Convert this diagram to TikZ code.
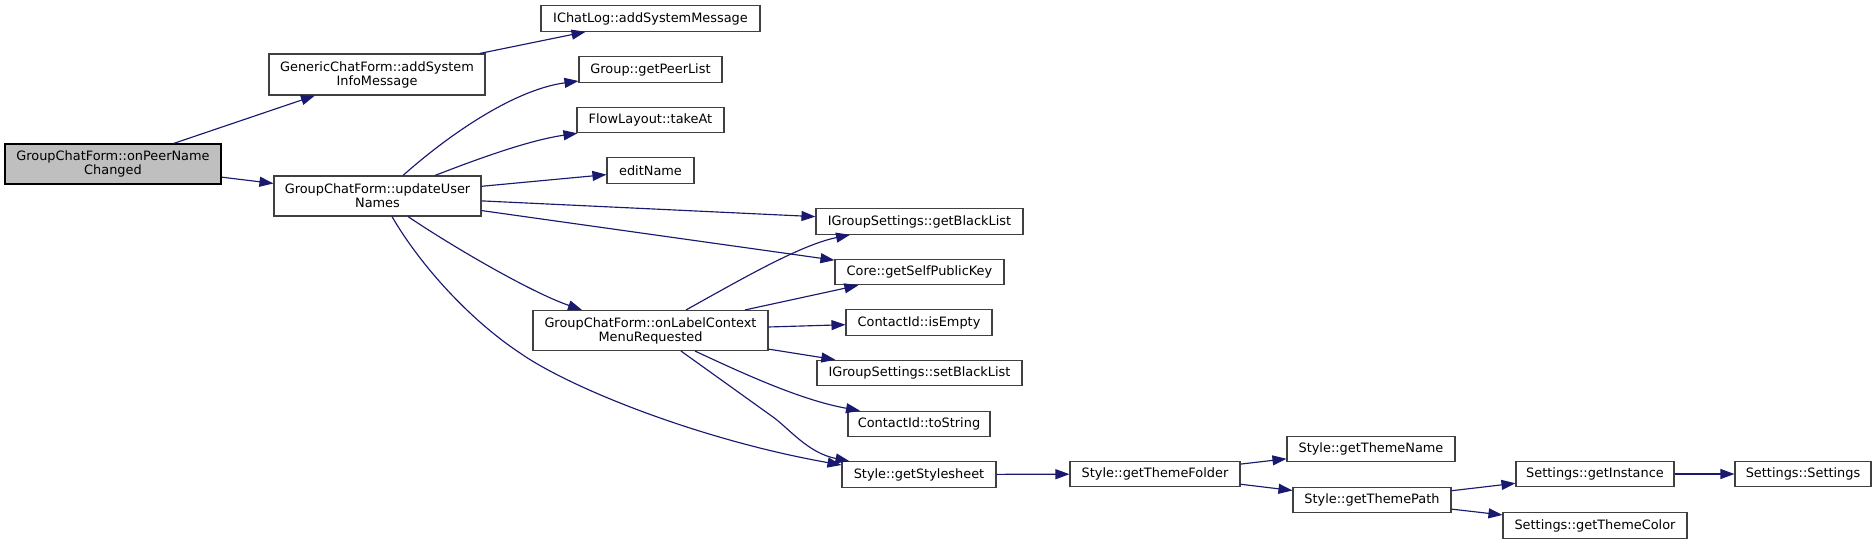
\documentclass[tikz,border=0pt]{standalone}
\usepackage{fontspec}
\setmainfont{DejaVu Sans}
\usetikzlibrary{arrows.meta}
\definecolor{edgeblue}{HTML}{191970}
\definecolor{rootgray}{HTML}{BFBFBF}
\definecolor{boxline}{HTML}{404040}
\tikzset{
  fn/.style={draw=boxline, line width=1.1pt, rectangle, inner sep=0pt, align=center,
    font=\fontsize{12.9pt}{14pt}\selectfont, minimum height=25.5pt},
  fntwo/.style={fn, minimum height=40pt},
  call/.style={draw=edgeblue, line width=1.15pt, -{Triangle[length=14pt,width=10pt]}},
}
\begin{document}
\begin{tikzpicture}[x=1pt,y=-1pt]
\useasboundingbox (0,0) rectangle (1876,544);
% nodes
\node[fntwo, fill=rootgray, draw=black, minimum width=216pt] (peer) at (113,164) {GroupChatForm::onPeerName\\Changed};
\node[fntwo, minimum width=216pt, minimum height=41pt] (gen) at (377,74.5) {GenericChatForm::addSystem\\InfoMessage};
\node[fn, minimum width=219pt] (ichat) at (650.5,18.5) {IChatLog::addSystemMessage};
\node[fn, minimum width=143pt] (grp) at (650.5,69.5) {Group::getPeerList};
\node[fn, minimum width=147pt] (flow) at (650.5,120) {FlowLayout::takeAt};
\node[fn, minimum width=87pt] (edit) at (650.5,170.5) {editName};
\node[fntwo, minimum width=207pt] (upd) at (377.5,196) {GroupChatForm::updateUser\\Names};
\node[fn, minimum width=207pt] (gbl) at (919.5,221.5) {IGroupSettings::getBlackList};
\node[fn, minimum width=169pt] (core) at (919.5,272) {Core::getSelfPublicKey};
\node[fntwo, minimum width=235pt] (olc) at (650.5,330.5) {GroupChatForm::onLabelContext\\MenuRequested};
\node[fn, minimum width=146pt] (isempty) at (919,322.5) {ContactId::isEmpty};
\node[fn, minimum width=205pt] (sbl) at (919.5,373) {IGroupSettings::setBlackList};
\node[fn, minimum width=142pt] (tostr) at (919,424) {ContactId::toString};
\node[fn, minimum width=154pt] (sty) at (919,474.5) {Style::getStylesheet};
\node[fn, minimum width=170pt] (folder) at (1155,474) {Style::getThemeFolder};
\node[fn, minimum width=168pt] (tname) at (1371,449) {Style::getThemeName};
\node[fn, minimum width=158pt] (tpath) at (1372,500) {Style::getThemePath};
\node[fn, minimum width=158pt] (inst) at (1595,474) {Settings::getInstance};
\node[fn, minimum width=136pt] (sett) at (1803,474) {Settings::Settings};
\node[fn, minimum width=184pt] (tcolor) at (1595,525.5) {Settings::getThemeColor};
% straight edges
\draw[call] (peer) -- (gen);
\draw[call] (gen) -- (ichat);
\draw[call] (peer) -- (upd);
\draw[call] (upd) -- (edit);
\draw[call] (upd) -- (gbl);
\draw[call] (upd) -- (core);
\draw[call] (olc) -- (core);
\draw[call] (olc) -- (isempty);
\draw[call] (olc) -- (sbl);
\draw[call] (sty) -- (folder);
\draw[call] (folder) -- (tname);
\draw[call] (folder) -- (tpath);
\draw[call] (tpath) -- (inst);
\draw[call] (tpath) -- (tcolor);
\draw[call] (inst) -- (sett);
% curved edges
\draw[call] ([xshift=25.5pt]upd.north) .. controls (445,138) and (512,90) .. ([yshift=-11.5pt]grp.west);
\draw[call] ([xshift=57.5pt]upd.north) .. controls (480,158) and (530,140) .. ([xshift=1pt]flow.south west);
\draw[call] ([xshift=30.5pt]upd.south) .. controls (450,245) and (530,292) .. ([xshift=-68.5pt]olc.north);
\draw[call] ([xshift=14.5pt]upd.south) .. controls (420,265) and (470,320) .. (520,353)
  .. controls (570,388) and (700,440) .. ([yshift=9.5pt]sty.west);
\draw[call] ([xshift=35.5pt]olc.north) .. controls (740,280) and (800,245) .. ([xshift=-69.5pt]gbl.south);
\draw[call] ([xshift=44.5pt]olc.south) .. controls (740,372) and (800,400) .. ([xshift=-59pt]tostr.north);
\draw[call] ([xshift=30.5pt]olc.south) -- (773,417) .. controls (789,428.5) and (808,453) .. ([xshift=8pt]sty.north west);
\end{tikzpicture}
\end{document}
